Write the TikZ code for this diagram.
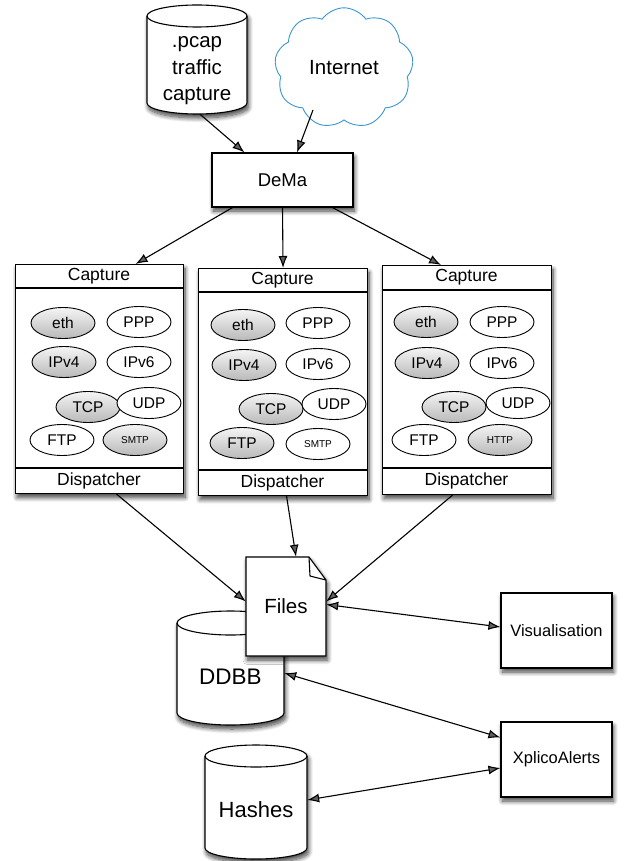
\documentclass[tikz,border=0pt]{standalone}
\usepackage{fontspec}
\setmainfont{Liberation Sans}
\usetikzlibrary{shapes.geometric,shapes.symbols,arrows.meta,shadows.blur,calc}
\definecolor{cloudblue}{RGB}{60,150,205}
\begin{document}
\begin{tikzpicture}[x=1pt,y=1pt,
  shd/.style={blur shadow={shadow xshift=1.5pt,shadow yshift=-4pt,shadow blur radius=4.5pt,shadow blur steps=10,shadow opacity=75}},
  sq/.style={draw,line width=1.1pt,fill=white,shd,inner sep=0pt},
  lbl/.style={font=\fontsize{17.5}{20}\selectfont,inner sep=0pt},
  proto/.style={ellipse,draw,line width=0.9pt,minimum width=64pt,minimum height=31pt,inner sep=0pt,fill=white,font=\fontsize{15.5}{18}\selectfont},
  protog/.style={proto,top color=gray!8,bottom color=gray!55},
  tiny/.style={font=\fontsize{10}{12}\selectfont},
  arr/.style={-{Latex[length=12pt,width=9pt]},line width=1.1pt},
  darr/.style={{Latex[length=12pt,width=9pt]}-{Latex[length=12pt,width=9pt]},line width=1.1pt}]
\useasboundingbox (0,0) rectangle (626,-861);

% pcap cylinder
\path[draw,line width=1.1pt,fill=white,shd] (147,-16) -- (147,-103) arc[start angle=180,end angle=360,x radius=50,y radius=11] -- (247,-16) arc[start angle=0,end angle=180,x radius=50,y radius=11] -- cycle;
\draw[line width=1.1pt] (147,-16) arc[start angle=180,end angle=360,x radius=50,y radius=11];
\node[minimum width=100pt,minimum height=86pt,inner sep=0pt,align=center,font=\fontsize{20.5}{26.5}\selectfont] (pcap) at (197,-71) {.pcap\\traffic\\capture};

% Internet cloud
\node[cloud,draw=cloudblue,line width=0.9pt,cloud puffs=9,cloud puff arc=110,minimum width=139pt,minimum height=83pt,font=\fontsize{20.5}{24}\selectfont] (inet) at (344,-68) {Internet};

% DeMa
\node[sq,minimum width=141pt,minimum height=54pt,lbl,font=\fontsize{18.5}{22}\selectfont] (dema) at (282.5,-180) {DeMa};

\draw[arr] ([xshift=3pt]pcap.south) -- ([xshift=33pt]dema.north west);
\draw[arr] ($(inet.center)+(-31,-42)$) -- ([xshift=14.5pt]dema.north);

% Capture box 1
\begin{scope}[shift={(15,-264)}]
\node[sq,minimum width=168pt,minimum height=229pt,anchor=north west] (cap1) at (0,0) {};
\draw[line width=1.1pt] (0,-24) -- (168,-24);
\draw[line width=1.1pt] (0,-204) -- (168,-204);
\node[lbl] (cap1h) at (84,-12) {Capture};
\node[lbl] (cap1d) at (84,-216.5) {Dispatcher};
\node[protog] (a1) at (48,-59) {eth};
\node[proto] (a2) at (124,-58) {PPP};
\node[protog] (a3) at (49,-98) {IPv4};
\node[proto] (a4) at (124,-98) {IPv6};
\node[protog] (a5) at (73,-143) {TCP};
\node[proto] (a6) at (134,-139) {UDP};
\node[proto] (a7) at (47,-176) {FTP};
\node[protog,tiny] (a8) at (120,-176) {SMTP};
\end{scope}

% Capture box 2
\begin{scope}[shift={(198,-268)}]
\node[sq,minimum width=169pt,minimum height=227pt,anchor=north west] (cap2) at (0,0) {};
\draw[line width=1.1pt] (0,-24) -- (169,-24);
\draw[line width=1.1pt] (0,-202) -- (169,-202);
\node[lbl] (cap2h) at (84.5,-12) {Capture};
\node[lbl] (cap2d) at (84.5,-214.5) {Dispatcher};
\node[protog] (b1) at (45,-57) {eth};
\node[proto] (b2) at (120,-55) {PPP};
\node[protog] (b3) at (46,-97) {IPv4};
\node[proto] (b4) at (120,-96) {IPv6};
\node[protog] (b5) at (73,-141) {TCP};
\node[proto] (b6) at (136,-136) {UDP};
\node[protog] (b7) at (44,-175) {FTP};
\node[proto,tiny] (b8) at (120,-176) {SMTP};
\end{scope}

% Capture box 3
\begin{scope}[shift={(382,-265)}]
\node[sq,minimum width=169pt,minimum height=229pt,anchor=north west] (cap3) at (0,0) {};
\draw[line width=1.1pt] (0,-25) -- (169,-25);
\draw[line width=1.1pt] (0,-203) -- (169,-203);
\node[lbl] (cap3h) at (84.5,-12.5) {Capture};
\node[lbl] (cap3d) at (84.5,-216) {Dispatcher};
\node[protog] (c1) at (44,-57) {eth};
\node[proto] (c2) at (120,-57) {PPP};
\node[protog] (c3) at (45,-98) {IPv4};
\node[proto] (c4) at (120,-98) {IPv6};
\node[protog] (c5) at (72,-142) {TCP};
\node[proto] (c6) at (136,-138) {UDP};
\node[proto] (c7) at (42,-175) {FTP};
\node[protog,tiny] (c8) at (118,-175) {HTTP};
\end{scope}

\draw[arr] ([xshift=-50pt]dema.south) -- ([xshift=36pt]cap1.north);
\draw[arr] (dema.south) -- (cap2.north);
\draw[arr] ([xshift=50pt]dema.south) -- ([xshift=-26pt]cap3.north);

% DDBB cylinder
\path[draw,line width=1.1pt,fill=white,shd] (177,-623) -- (177,-713) arc[start angle=180,end angle=360,x radius=53.5,y radius=12] -- (284,-623) arc[start angle=0,end angle=180,x radius=53.5,y radius=12] -- cycle;
\draw[line width=1.1pt] (177,-623) arc[start angle=180,end angle=360,x radius=53.5,y radius=12];
\node[minimum width=107pt,minimum height=96pt,inner sep=0pt,font=\fontsize{22.5}{26}\selectfont] (ddbb) at (230.5,-677) {DDBB};

% Files document
\path[draw,line width=1.1pt,fill=white,shd] (246,-557) -- (309,-557) -- (326,-580) -- (326,-656) -- (246,-656) -- cycle;
\draw[line width=1.1pt,line join=round] (309,-557) -- (310,-576) -- (326,-580);
\node[minimum width=80pt,minimum height=99pt,inner sep=0pt,font=\fontsize{20.5}{24}\selectfont] (files) at (286,-606.5) {Files};

% Hashes cylinder
\path[draw,line width=1.1pt,fill=white,shd] (205,-756) -- (205,-848) arc[start angle=180,end angle=360,x radius=51,y radius=11] -- (307,-756) arc[start angle=0,end angle=180,x radius=51,y radius=11] -- cycle;
\draw[line width=1.1pt] (205,-756) arc[start angle=180,end angle=360,x radius=51,y radius=11];
\node[minimum width=102pt,minimum height=98pt,inner sep=0pt,font=\fontsize{22}{26}\selectfont] (hashes) at (256,-810) {Hashes};

% right boxes
\node[sq,minimum width=111pt,minimum height=75pt,lbl,font=\fontsize{16.5}{20}\selectfont] (vis) at (556.5,-630.5) {Visualisation};
\node[sq,minimum width=111pt,minimum height=75pt,lbl,font=\fontsize{16.5}{20}\selectfont] (xa) at (556.5,-759.5) {XplicoAlerts};

% connectors
\draw[arr] ([xshift=17pt]cap1.south) -- ([yshift=5pt]files.west);
\draw[arr] ([xshift=3.5pt]cap2.south) -- ([xshift=10pt]files.north);
\draw[arr] ([xshift=-14.5pt]cap3.south) -- ([yshift=5pt]files.east);
\draw[darr] ([yshift=2pt]files.east) -- ([yshift=3.5pt]vis.west);
\draw[darr] ([yshift=4pt]ddbb.east) -- ([yshift=22pt]xa.west);
\draw[darr] ([yshift=10pt]hashes.east) -- ([yshift=-8.5pt]xa.west);
\end{tikzpicture}
\end{document}
